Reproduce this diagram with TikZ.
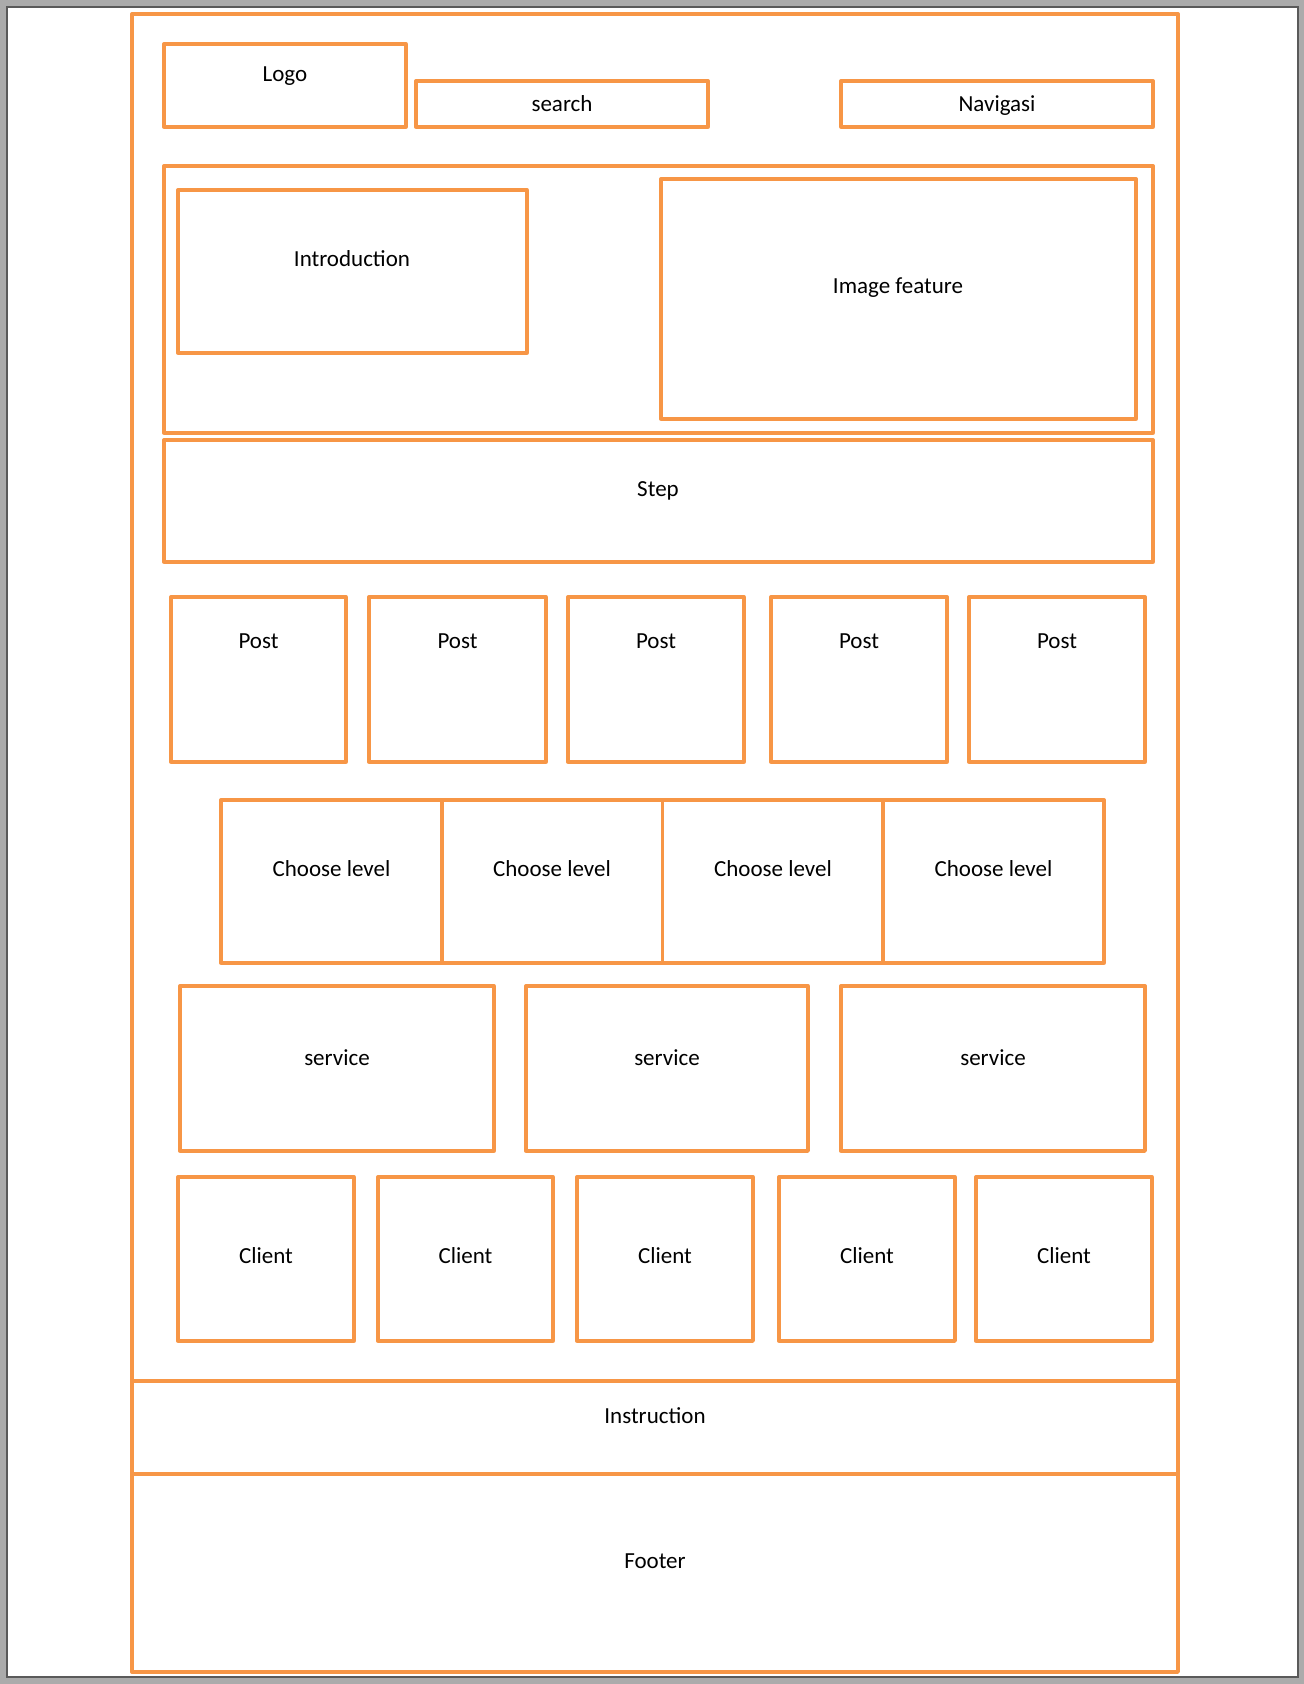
\documentclass[tikz,border=0pt]{standalone}
\usepackage{fontspec}
\setmainfont{Carlito}
\definecolor{wire}{HTML}{F79646}
\definecolor{desk}{HTML}{ABABAB}
\definecolor{pageedge}{HTML}{5A5A5A}
\tikzset{box/.style={draw=wire,line width=1.65pt,line join=round},
	lbl/.style={text height=1.5ex,text depth=0pt}}

\begin{document}
\begin{tikzpicture}[x=0.5pt,y=-0.5pt,font=\fontsize{11.5}{14}\selectfont,every node/.style={lbl}]
		\useasboundingbox (0,0) rectangle (1304,1684);
		\fill[desk] (0,0) rectangle (1304,1684);
		\draw[pageedge,line width=0.8pt,fill=white] (7,7) rectangle (1298,1677);
		\draw[box] (132,14) rectangle (1178,1672);
		\draw[box] (132,1381) -- (1178,1381);
		\draw[box] (132,1474) -- (1178,1474);
		% header
		\draw[box] (164,44) rectangle (406,127);
		\draw[box] (416,81) rectangle (708,127);
		\draw[box] (841,81) rectangle (1153,127);
		% hero
		\draw[box] (164,166) rectangle (1153,433);
		\draw[box] (178,190) rectangle (527,353);
		\draw[box] (661,179) rectangle (1136,419);
		\draw[box] (164,440) rectangle (1153,562);
		% posts
		\draw[box] (171,597) rectangle (346,762);
		\draw[box] (369,597) rectangle (546,762);
		\draw[box] (568,597) rectangle (744,762);
		\draw[box] (771,597) rectangle (947,762);
		\draw[box] (969,597) rectangle (1145,762);
		% levels
		\draw[box] (221,800) rectangle (442,963);
		\draw[box] (442,800) rectangle (662.5,963);
		\draw[box] (662.5,800) rectangle (883,963);
		\draw[box] (883,800) rectangle (1104,963);
		% services
		\draw[box] (180,986) rectangle (494,1151);
		\draw[box] (526,986) rectangle (808,1151);
		\draw[box] (841,986) rectangle (1145,1151);
		% clients
		\draw[box] (178,1177) rectangle (354,1341);
		\draw[box] (378,1177) rectangle (553,1341);
		\draw[box] (577,1177) rectangle (753,1341);
		\draw[box] (779,1177) rectangle (955,1341);
		\draw[box] (976,1177) rectangle (1152,1341);
		% labels
		\node (logo) at (285,74) {Logo};
		\node (search) at (562,104) {search};
		\node (navigasi) at (997,104) {Navigasi};
		\node (intro) at (352,259) {Introduction};
		\node (imgfeat) at (898,286) {Image feature};
		\node (stepbar) at (658,489) {Step};
		\node (post1) at (258.5,641) {Post};
		\node (post2) at (457.5,641) {Post};
		\node (post3) at (656,641) {Post};
		\node (post4) at (859,641) {Post};
		\node (post5) at (1057,641) {Post};
		\node (level1) at (331.5,869) {Choose level};
		\node (level2) at (552,869) {Choose level};
		\node (level3) at (773,869) {Choose level};
		\node (level4) at (993.5,869) {Choose level};
		\node (service1) at (337,1058) {service};
		\node (service2) at (667,1058) {service};
		\node (service3) at (993,1058) {service};
		\node (client1) at (266,1256) {Client};
		\node (client2) at (465.5,1256) {Client};
		\node (client3) at (665,1256) {Client};
		\node (client4) at (867,1256) {Client};
		\node (client5) at (1064,1256) {Client};
		\node (instruction) at (655,1416) {Instruction};
		\node (footer) at (655,1561) {Footer};
	\end{tikzpicture}
\end{document}
